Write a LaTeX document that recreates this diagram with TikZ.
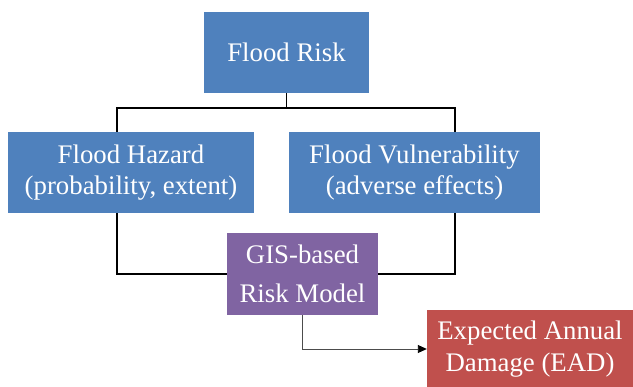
\documentclass[tikz,border=0pt]{standalone}
\usepackage{fontspec}
\setmainfont{Liberation Serif}
\usetikzlibrary{arrows.meta,positioning,calc}
\definecolor{boxblue}{RGB}{79,129,189}
\definecolor{boxpurple}{RGB}{128,100,162}
\definecolor{boxred}{RGB}{192,80,77}

\begin{document}
\begin{tikzpicture}[x=1pt,y=1pt,
  block/.style={
    rectangle, fill=#1, text=white, inner sep=0pt, minimum height=81pt,
    align=center, font=\fontsize{26.8}{31}\selectfont
  },
  link/.style={draw=black, line width=1.8pt},
  arr/.style={-{Triangle[length=9pt,width=8pt,color=black]}, draw=gray!60!black, line width=0.9pt}
]
  \useasboundingbox (0,0) rectangle (633,-387);

  \node[block=boxblue, minimum width=165pt] (risk) at (286.5,-52.5) {Flood Risk};
  \node[block=boxblue, minimum width=246pt] (hazard) at (131,-172.5) {Flood Hazard\\(probability, extent)};
  \node[block=boxblue, minimum width=251pt] (vuln) at (414.5,-172.5) {Flood Vulnerability\\(adverse effects)};
  \node[block=boxpurple, minimum width=151pt, minimum height=82pt,
        font=\fontsize{26.8}{39}\selectfont] (gis) at (302.5,-274) {GIS-based\\Risk Model};
  \node[block=boxred, minimum width=206pt, minimum height=78pt,
        font=\fontsize{26.8}{32}\selectfont] (ead) at (530,-349) {Expected Annual\\Damage (EAD)};

  % tree lines
  \coordinate (lft) at (117,-108);
  \coordinate (rgt) at (455,-108);
  \draw[link] (risk.south) -- (risk.south |- lft);
  \draw[link] (hazard.north -| lft) -- (lft) -- (rgt) -- (vuln.north -| rgt);
  \draw[link] (hazard.south -| lft) |- (gis.west);
  \draw[link] (vuln.south -| rgt) |- (gis.east);

  \draw[arr] (gis.south) |- (ead.west);
\end{tikzpicture}
\end{document}
